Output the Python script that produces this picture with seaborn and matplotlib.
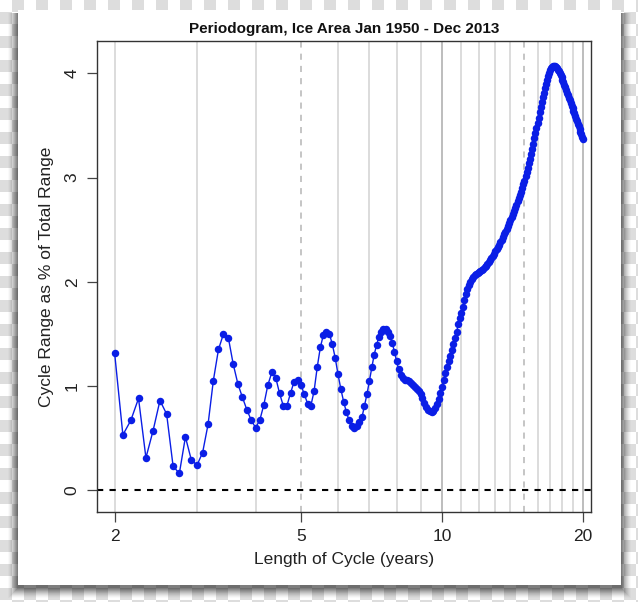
import numpy as np
import pandas as pd
import matplotlib
matplotlib.use("Agg")
import matplotlib.pyplot as plt
import seaborn as sns
from matplotlib.patches import Rectangle
from matplotlib.ticker import FixedLocator, NullLocator, FixedFormatter

# ---------------- data ----------------
months = list(range(24, 241))  # cycle length in months (2 .. 20 years)
cycle_range = [
    1.32, 0.53, 0.67, 0.88, 0.31, 0.57, 0.86, 0.73, 0.23, 0.16,   # 24-33
    0.51, 0.29, 0.24, 0.36, 0.63, 1.05, 1.35, 1.50, 1.46, 1.21,   # 34-43
    1.02, 0.89, 0.77, 0.67, 0.60, 0.67, 0.82, 1.01, 1.13, 1.08,   # 44-53
    0.93, 0.81, 0.81, 0.93, 1.04, 1.06, 1.01, 0.92, 0.83, 0.81,   # 54-63
    0.95, 1.18, 1.37, 1.49, 1.52, 1.50, 1.40, 1.27, 1.11, 0.97,   # 64-73
    0.85, 0.75, 0.67, 0.62, 0.60, 0.62, 0.65, 0.70, 0.81, 0.92,   # 74-83
    1.05, 1.18, 1.30, 1.39, 1.47, 1.52, 1.55, 1.545, 1.52, 1.48,  # 84-93
    1.41, 1.33, 1.24, 1.16, 1.10, 1.08, 1.06, 1.055, 1.045, 1.03, # 94-103
    1.01, 0.99, 0.97, 0.95, 0.92, 0.88, 0.84, 0.80, 0.77, 0.755,  # 104-113
    0.75, 0.76, 0.785, 0.83, 0.875, 0.93, 0.99, 1.06, 1.12, 1.18, # 114-123
    1.24, 1.29, 1.34, 1.40, 1.46, 1.52, 1.59, 1.65, 1.70, 1.76,   # 124-133
    1.82, 1.88, 1.93, 1.97, 2.00, 2.03, 2.05, 2.06, 2.07, 2.08,   # 134-143
    2.09, 2.10, 2.11, 2.12, 2.14, 2.155, 2.17, 2.19, 2.21, 2.23,  # 144-153
    2.25, 2.27, 2.29, 2.31, 2.33, 2.355, 2.38, 2.405, 2.43, 2.455, # 154-163
    2.48, 2.505, 2.53, 2.56, 2.59, 2.62, 2.65, 2.68, 2.71, 2.74,  # 164-173
    2.77, 2.80, 2.83, 2.865, 2.90, 2.935, 2.97, 3.01, 3.05, 3.09, # 174-183
    3.135, 3.18, 3.225, 3.275, 3.325, 3.375, 3.425, 3.475, 3.525, 3.575, # 184-193
    3.625, 3.675, 3.725, 3.77, 3.815, 3.86, 3.90, 3.94, 3.975, 4.005, # 194-203
    4.03, 4.048, 4.06, 4.068, 4.072, 4.07, 4.062, 4.05, 4.035, 4.02, # 204-213
    4.00, 3.98, 3.96, 3.94, 3.915, 3.89, 3.865, 3.84, 3.815, 3.79, # 214-223
    3.765, 3.74, 3.715, 3.69, 3.665, 3.64, 3.615, 3.59, 3.565, 3.54, # 224-233
    3.515, 3.49, 3.465, 3.44, 3.415, 3.39, 3.365,                 # 234-240
]
x_ticks = [2, 5, 10, 20]
x_tick_labels = ["2", "5", "10", "20"]
y_ticks = [0, 1, 2, 3, 4]
y_tick_labels = ["0", "1", "2", "3", "4"]
grid_years = list(range(2, 21))
dashed_grid_years = [5, 15]
dark_grid_years = [10, 20]

df = pd.DataFrame({"period": [m / 12 for m in months], "value": cycle_range})

# ---------------- style ----------------
sns.set_theme(style="white")
plt.rcParams["font.family"] = ["Liberation Sans", "DejaVu Sans"]

W, H = 638, 602
fig = plt.figure(figsize=(W / 100, H / 100), dpi=100)

# checkered (transparency-like) background
sq = 12
yy, xx = np.mgrid[0:H, 0:W]
checker = np.where(((xx // sq) + (yy // sq)) % 2 == 0, 1.0, 0.87)
rgb = np.dstack([checker, checker, checker])
fig.figimage(rgb, 0, 0, zorder=-3)

# card with soft shadow
cx0, cy0, cx1, cy1 = 18, 10, 621, 585
for i, a in enumerate([0.10, 0.10, 0.09, 0.08, 0.07, 0.06, 0.05, 0.04, 0.03, 0.02]):
    pad = i + 1
    fig.patches.append(Rectangle(((cx0 - pad) / W, 1 - (cy1 + pad + 3) / H),
                                 (cx1 - cx0 + 2 * pad) / W, (cy1 - cy0 + pad) / H,
                                 transform=fig.transFigure, facecolor="black",
                                 edgecolor="none", alpha=a, zorder=-2))
fig.patches.append(Rectangle((cx0 / W, 1 - cy1 / H), (cx1 - cx0) / W, (cy1 - cy0) / H,
                             transform=fig.transFigure, facecolor="white",
                             edgecolor="none", zorder=-1))

ax = fig.add_axes([96.5 / W, 1 - 512 / H, (591.4 - 96.5) / W, (512 - 41) / H])
ax.set_facecolor("white")

# vertical grid
for g in grid_years:
    if g in dashed_grid_years:
        ax.axvline(g, color="#b5b5b5", lw=1.1, ls=(0, (4, 4)), zorder=0)
    elif g in dark_grid_years:
        ax.axvline(g, color="#bdbdbd", lw=1.4, zorder=0)
    else:
        ax.axvline(g, color="#d9d9d9", lw=1.3, zorder=0)

ax.axhline(0, color="black", lw=1.5, ls=(0, (3, 3)), zorder=1)

sns.lineplot(data=df, x="period", y="value", ax=ax, color="#0a1ee6",
             linewidth=1.0, marker="o", markersize=5.4, markeredgewidth=0,
             zorder=3, legend=False)

ax.set_xscale("log")
ax.set_xlim(1.83, 20.85)
ax.set_ylim(-0.21, 4.31)

ax.xaxis.set_major_locator(FixedLocator(x_ticks))
ax.xaxis.set_major_formatter(FixedFormatter(x_tick_labels))
ax.xaxis.set_minor_locator(NullLocator())
ax.set_yticks(y_ticks)
ax.set_yticklabels(y_tick_labels, rotation=90, va="center")

ax.tick_params(axis="both", which="major", direction="out", length=7, width=0.9,
               color="#444444", labelsize=12.5, labelcolor="#222222", pad=5,
               bottom=True, left=True)
for s in ax.spines.values():
    s.set_color("#333333")
    s.set_linewidth(1.0)

ax.set_xlabel("Length of Cycle (years)", fontsize=12.5, color="#222222", labelpad=6)
ax.set_ylabel("Cycle Range as % of Total Range", fontsize=12.5, color="#222222", labelpad=8)
ax.set_title("Periodogram, Ice Area Jan 1950 - Dec 2013", fontsize=11,
             fontweight="bold", color="#111111", pad=6)

fig.savefig("out.png", dpi=100)
